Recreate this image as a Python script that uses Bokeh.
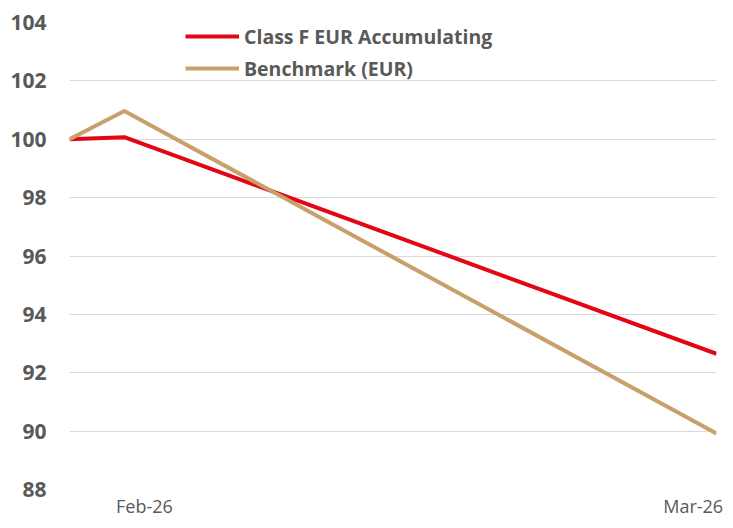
import pandas as pd
from bokeh.plotting import figure
from bokeh.models import FixedTicker, Legend, LegendItem, ColumnDataSource
from bokeh.embed import file_html
from bokeh.resources import INLINE

# ---- data ----
dates = ["2026-01-31", "2026-02-05", "2026-03-31"]
fund = [100.0, 100.07, 92.65]
bench = [100.0, 100.97, 89.92]
series_names = ["Class F EUR Accumulating", "Benchmark (EUR)"]
x_tick_dates = ["2026-02-06 20:00", "2026-03-28 21:00"]
x_tick_labels = ["Feb-26", "Mar-26"]
y_ticks = [88, 90, 92, 94, 96, 98, 100, 102, 104]

FONT = "Open Sans"
GREY = "#595959"

xs = pd.to_datetime(dates)
src = ColumnDataSource(dict(x=xs, fund=fund, bench=bench))

p = figure(width=725, height=520, x_axis_type="datetime",
           x_range=(xs[0], xs[-1]), y_range=(88, 104),
           output_backend="svg", toolbar_location=None,
           min_border_left=69, min_border_right=9,
           min_border_top=22, min_border_bottom=29)
p.outline_line_color = None
p.background_fill_color = "white"

r1 = p.line("x", "fund", source=src, line_color="#E30613", line_width=4)
r2 = p.line("x", "bench", source=src, line_color="#C9A06A", line_width=4)

# axes
tick_ms = [pd.Timestamp(d).value / 1e6 for d in x_tick_dates]
p.xaxis.ticker = FixedTicker(ticks=tick_ms)
p.xaxis.major_label_overrides = {t: l for t, l in zip(tick_ms, x_tick_labels)}
p.xaxis.axis_line_color = None
p.xaxis.major_tick_line_color = None
p.xaxis.major_tick_out = 0
p.xaxis.minor_tick_line_color = None
p.xaxis.major_label_text_font = FONT
p.xaxis.major_label_text_font_size = "18px"
p.xaxis.major_label_text_color = GREY
p.xaxis.major_label_standoff = 4

p.yaxis.ticker = FixedTicker(ticks=y_ticks)
p.yaxis.axis_line_color = None
p.yaxis.major_tick_line_color = None
p.yaxis.major_tick_out = 0
p.yaxis.minor_tick_line_color = None
p.yaxis.major_label_text_font = FONT
p.yaxis.major_label_text_font_size = "21px"
p.yaxis.major_label_text_font_style = "bold"
p.yaxis.major_label_text_color = GREY
p.yaxis.major_label_standoff = 23

p.xgrid.grid_line_color = None
p.ygrid.grid_line_color = "#d9d9d9"
p.ygrid.grid_line_width = 1

legend = Legend(items=[LegendItem(label=series_names[0], renderers=[r1]),
                       LegendItem(label=series_names[1], renderers=[r2])],
                location=(116, 405), orientation="vertical",
                glyph_width=54, glyph_height=32, label_height=32, spacing=0,
                label_standoff=5, padding=0, margin=0,
                border_line_alpha=0, background_fill_alpha=0,
                label_text_font=FONT, label_text_font_size="19.5px",
                label_text_font_style="bold", label_text_color=GREY)
p.add_layout(legend)

open("out.html", "w").write(file_html(p, INLINE))
